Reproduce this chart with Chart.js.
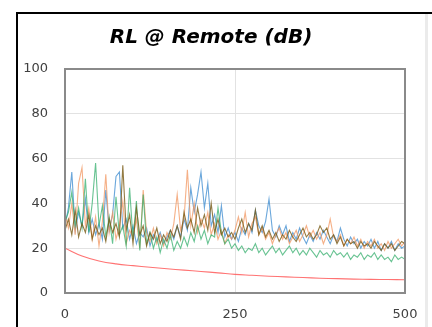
<!DOCTYPE html>
<html>
<head>
<meta charset="utf-8">
<script src="https://cdn.jsdelivr.net/npm/chart.js@4/dist/chart.umd.min.js"></script>
<style>
  html, body { margin: 0; padding: 0; background: #fff; }
  #wrap { position: relative; width: 432px; height: 327px; }
  #edge { position: absolute; left: 16px; top: 12px; width: 416px; height: 315px;
          border-top: 2px solid #000; border-left: 2px solid #000; box-sizing: border-box; }
  #side { position: absolute; left: 425px; top: 14px; width: 3px; height: 313px; background: #ebebeb; }
  canvas { position: absolute; left: 0; top: 0; }
</style>
</head>
<body>
<div id="wrap">
  <div id="edge"></div>
  <div id="side"></div>
  <canvas id="grafico" width="432" height="327"></canvas>
</div>
<script>
// dados (frequencia x dB)
const freq = [
  0, 5, 10, 15, 20, 25, 30, 35, 40, 45, 50, 55, 60, 65, 70, 75, 80, 85, 90, 95,
  100, 105, 110, 115, 120, 125, 130, 135, 140, 145, 150, 155, 160, 165, 170, 175, 180, 185, 190, 195,
  200, 205, 210, 215, 220, 225, 230, 235, 240, 245, 250, 255, 260, 265, 270, 275, 280, 285, 290, 295,
  300, 305, 310, 315, 320, 325, 330, 335, 340, 345, 350, 355, 360, 365, 370, 375, 380, 385, 390, 395,
  400, 405, 410, 415, 420, 425, 430, 435, 440, 445, 450, 455, 460, 465, 470, 475, 480, 485, 490, 495, 500
];

const azul = [
  30, 38, 54, 28, 36, 30, 42, 27, 33, 26, 31, 24, 46, 28, 35, 52, 54, 29, 33, 24,
  30, 22, 27, 25, 29, 21, 26, 23, 27, 22, 25, 28, 24, 30, 25, 33, 28, 47, 36, 44,
  54, 38, 49, 30, 35, 27, 39, 25, 29, 24, 27, 23, 29, 26, 31, 27, 37, 30, 27, 32,
  42, 28, 25, 30, 26, 30, 23, 27, 24, 29, 25, 22, 26, 23, 27, 24, 28, 25, 22, 26,
  23, 29, 24, 21, 25, 22, 24, 20, 23, 21, 24, 20, 23, 19, 22, 20, 23, 19, 22, 20, 21
];

const laranja = [
  35, 29, 40, 26, 49, 56, 30, 38, 24, 34, 21, 32, 53, 27, 36, 24, 30, 41, 22, 28,
  25, 33, 20, 46, 27, 23, 29, 22, 26, 21, 27, 24, 31, 44, 28, 33, 55, 30, 40, 27,
  33, 29, 36, 26, 31, 24, 28, 22, 26, 24, 28, 34, 27, 36, 25, 31, 34, 26, 29, 24,
  27, 22, 26, 29, 24, 27, 22, 25, 28, 23, 26, 30, 25, 28, 24, 27, 22, 26, 33, 25,
  23, 26, 21, 24, 22, 25, 21, 24, 20, 23, 21, 24, 20, 22, 19, 23, 20, 22, 24, 21, 23
];

const verde = [
  32, 36, 45, 30, 38, 29, 51, 27, 40, 58, 30, 39, 25, 34, 22, 43, 26, 30, 21, 47,
  24, 41, 19, 44, 22, 27, 20, 25, 18, 24, 20, 26, 19, 23, 20, 25, 21, 27, 23, 30,
  24, 28, 22, 26, 25, 38, 27, 22, 24, 20, 22, 19, 21, 18, 20, 19, 22, 18, 20, 17,
  19, 21, 18, 20, 17, 19, 21, 18, 20, 17, 19, 17, 20, 18, 16, 19, 17, 18, 16, 19,
  17, 18, 16, 18, 15, 17, 16, 18, 15, 17, 16, 18, 15, 17, 15, 16, 14, 17, 15, 16, 15
];

const marrom = [
  28, 33, 26, 37, 25, 31, 27, 35, 24, 30, 26, 29, 23, 33, 27, 31, 25, 57, 28, 35,
  22, 38, 26, 30, 21, 27, 24, 29, 22, 26, 23, 28, 25, 30, 24, 36, 29, 33, 27, 38,
  30, 35, 28, 40, 27, 33, 26, 29, 25, 27, 24, 29, 33, 27, 31, 28, 37, 26, 30, 25,
  28, 24, 27, 23, 26, 24, 28, 25, 23, 26, 29, 25, 27, 24, 26, 30, 27, 29, 24, 26,
  22, 25, 21, 24, 22, 23, 20, 23, 21, 22, 20, 23, 21, 19, 22, 20, 22, 19, 21, 23, 22
];

// limite (linha vermelha)
const freqLimite = [0, 25, 50, 75, 100, 125, 150, 175, 200, 225, 250, 275, 300, 325, 350, 375, 400, 425, 450, 475, 500];
const limite = [20, 16.5, 14.3, 13, 12.2, 11.5, 10.8, 10.2, 9.6, 9, 8.3, 7.9, 7.5, 7.2, 6.9, 6.6, 6.4, 6.2, 6.1, 6.0, 5.9];

function pontos(xs, ys) {
  return xs.map((x, i) => ({ x: x, y: ys[i] }));
}

const moldura = {
  id: "moldura",
  afterDatasetsDraw(chart) {
    const a = chart.chartArea;
    const ctx = chart.ctx;
    ctx.save();
    ctx.strokeStyle = "#8a8a8a";
    ctx.lineWidth = 2;
    ctx.strokeRect(a.left, a.top, a.right - a.left, a.bottom - a.top);
    ctx.restore();
  }
};

const CANVAS = document.querySelector("#grafico");

let grafico = new Chart(CANVAS, {
  type: "line",
  data: {
    datasets: [
      {
        label: "Limite",
        data: pontos(freqLimite, limite),
        borderColor: "rgba(255, 90, 90, 0.85)",
        borderWidth: 1.1,
        pointRadius: 0,
        tension: 0.4,
        order: 0,
      },
      {
        label: "Par 4",
        data: pontos(freq, marrom),
        borderColor: "rgba(120, 90, 20, 0.8)",
        borderWidth: 1.1,
        pointRadius: 0,
        order: 1,
      },
      {
        label: "Par 3",
        data: pontos(freq, verde),
        borderColor: "rgba(40, 170, 100, 0.7)",
        borderWidth: 1.1,
        pointRadius: 0,
        order: 2,
      },
      {
        label: "Par 2",
        data: pontos(freq, laranja),
        borderColor: "rgba(242, 150, 95, 0.75)",
        borderWidth: 1.1,
        pointRadius: 0,
        order: 3,
      },
      {
        label: "Par 1",
        data: pontos(freq, azul),
        borderColor: "rgba(70, 145, 210, 0.8)",
        borderWidth: 1.1,
        pointRadius: 0,
        order: 4,
      },
    ],
  },
  options: {
    responsive: false,
    animation: false,
    layout: {
      padding: { left: 17, right: 27, top: 14, bottom: 0 },
    },
    scales: {
      x: {
        type: "linear",
        min: 0,
        max: 500,
        ticks: {
          stepSize: 250,
          padding: 14,
          color: "#404040",
          font: { family: "DejaVu Sans", size: 13 },
        },
        grid: { color: "#e2e2e2", lineWidth: 1, drawTicks: false },
        border: { display: false },
        afterFit(scale) { scale.height = 34; },
      },
      y: {
        min: 0,
        max: 100,
        ticks: {
          stepSize: 20,
          padding: 17,
          color: "#404040",
          font: { family: "DejaVu Sans", size: 13 },
        },
        grid: { color: "#e2e2e2", lineWidth: 1, drawTicks: false },
        border: { display: false },
        afterFit(scale) { scale.width = 48; },
      },
    },
    plugins: {
      legend: { display: false },
      tooltip: { enabled: false },
      title: {
        display: true,
        text: "RL @ Remote (dB)",
        color: "#000",
        font: { family: "DejaVu Sans", size: 20, weight: "bold", style: "italic" },
        padding: { top: 12, bottom: 19 },
      },
    },
  },
  plugins: [moldura],
});
</script>
</body>
</html>
